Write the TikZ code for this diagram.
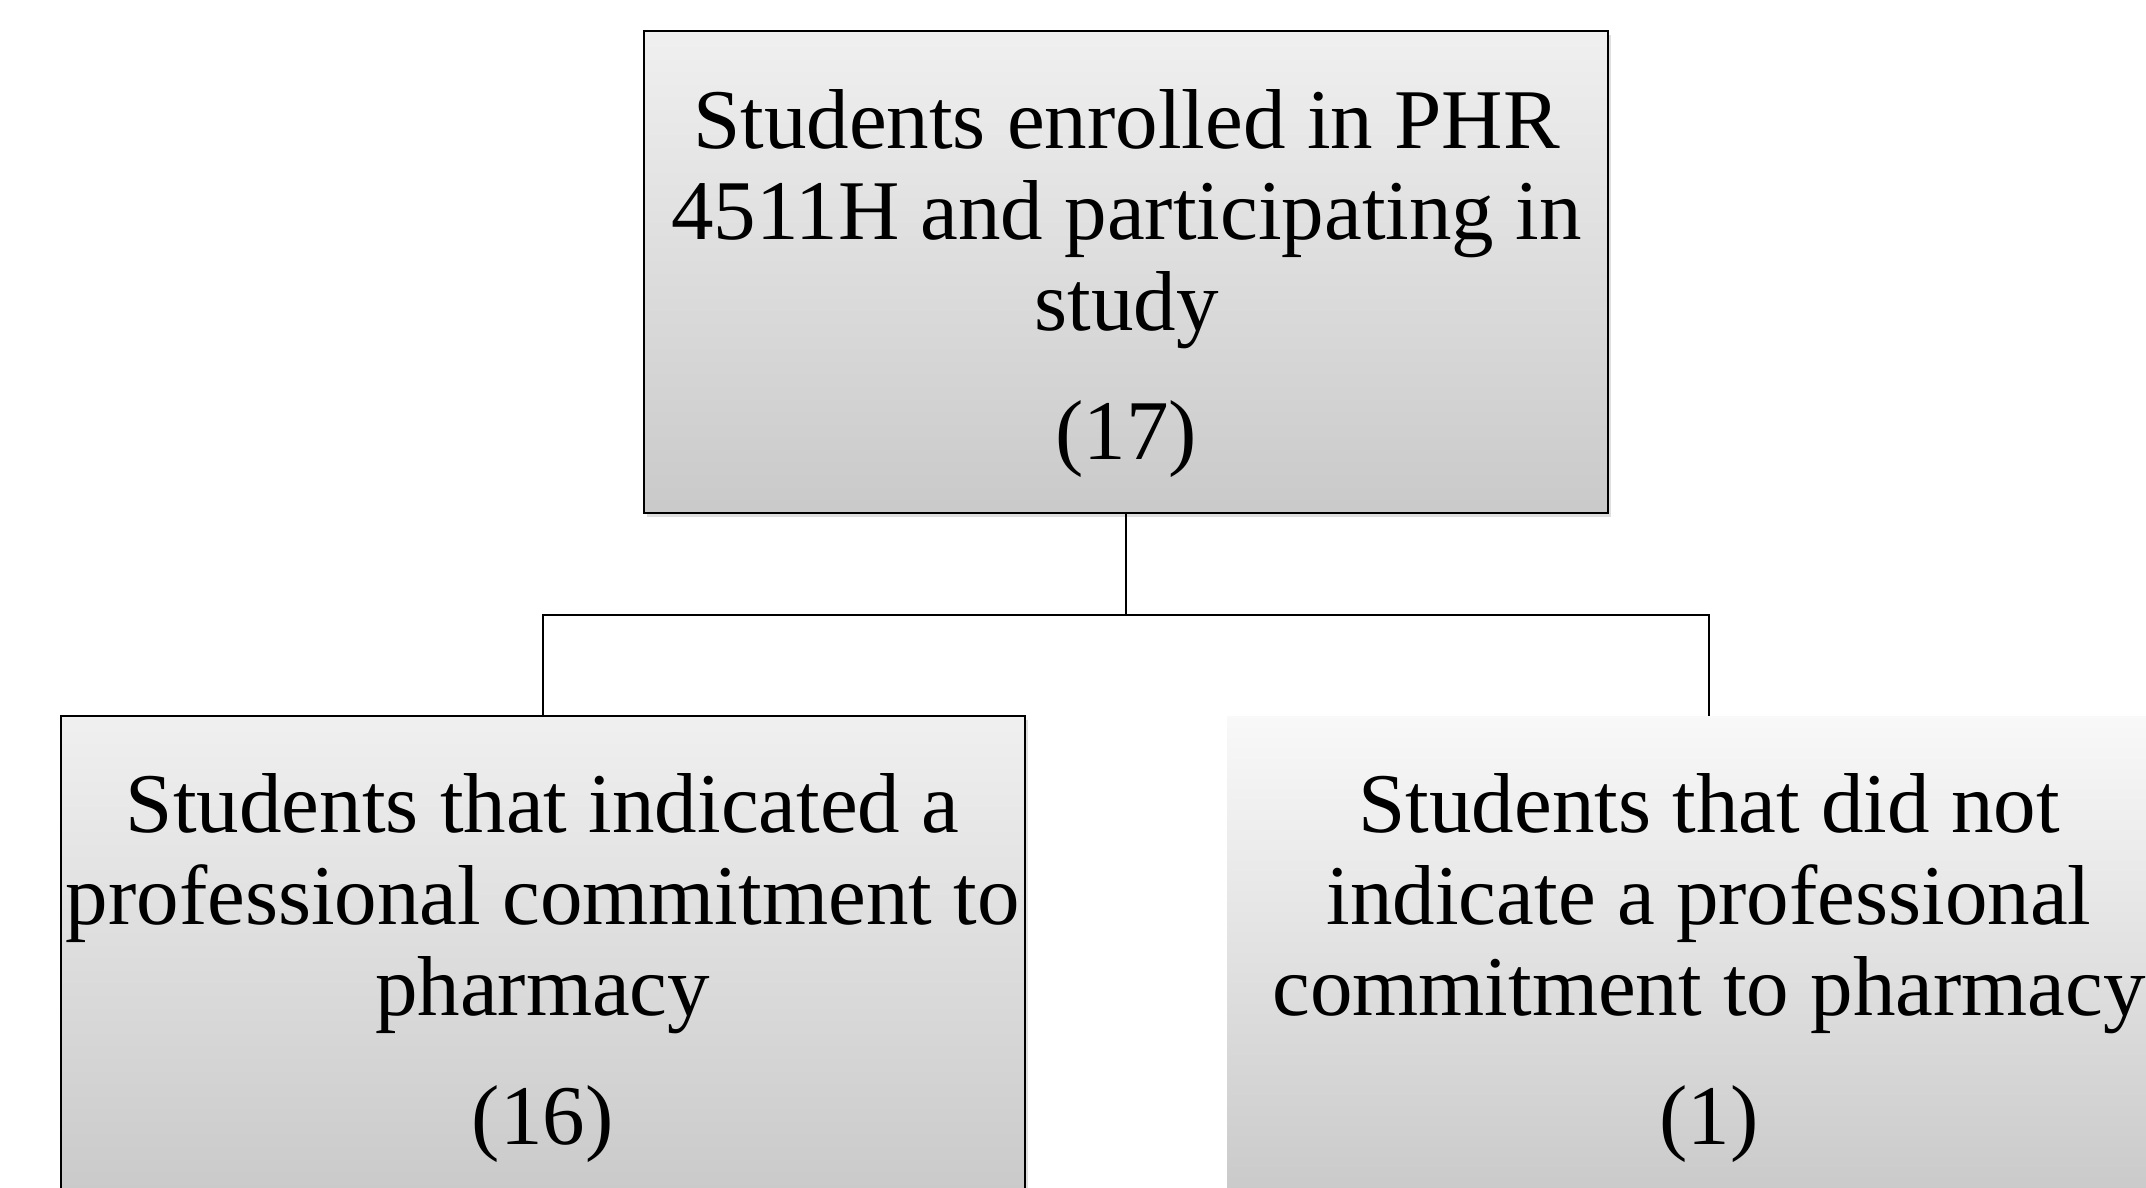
\documentclass[tikz,border=0pt]{standalone}
\usepackage{fontspec}
\setmainfont{Liberation Serif}
\usetikzlibrary{shadows}
\begin{document}
\begin{tikzpicture}[x=1bp,y=1bp,
  box/.style={rectangle, inner sep=0pt, minimum width=482bp, minimum height=240.75bp,
    align=center, font=\fontsize{42.5bp}{45.6bp}\selectfont},
  framed/.style={box, draw=black, line width=1bp, top color=gray!12, bottom color=gray!42,
    drop shadow={opacity=0.25, shadow xshift=1.5bp, shadow yshift=-2bp}},
  plain/.style={box, top color=gray!5, bottom color=gray!42},
  link/.style={draw=black, line width=1bp}]
\useasboundingbox (0,0) rectangle (1073,-594);
\clip (0,0) rectangle (1073,-594);
\fill[white] (0,0) rectangle (1073,-594);

\node[framed] (total) at (563.2,-136.1)
  {\rule{0pt}{41bp}Students enrolled in PHR\\4511H and participating in\\study\\[19bp](17)};
\node[framed] (yes) at (271.3,-478.4)
  {\rule{0pt}{41bp}Students that indicated a\\professional commitment to\\pharmacy\\[19bp](16)};
\node[plain] (no) at (854.5,-478.4)
  {\rule{0pt}{41bp}Students that did not\\indicate a professional\\commitment to pharmacy\\[19bp](1)};

\coordinate (split) at (563.2,-307.3);
\draw[link] (total.south) -- (split);
\draw[link] (yes.north) |- (split) -| (no.north);
\end{tikzpicture}
\end{document}
